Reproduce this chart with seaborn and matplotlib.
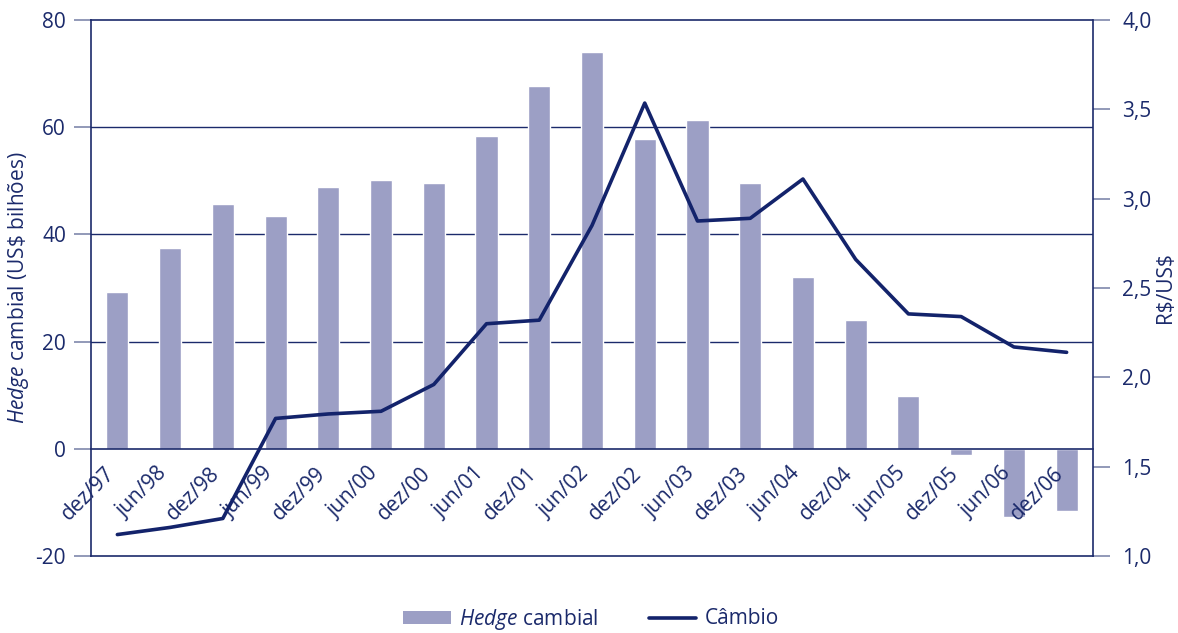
import numpy as np
import pandas as pd
import matplotlib
matplotlib.use("Agg")
import matplotlib.pyplot as plt
import seaborn as sns
from matplotlib.patches import Patch
from matplotlib.lines import Line2D
from matplotlib.ticker import FixedLocator, FuncFormatter

periods = ["dez/97", "jun/98", "dez/98", "jun/99", "dez/99", "jun/00", "dez/00",
           "jun/01", "dez/01", "jun/02", "dez/02", "jun/03", "dez/03", "jun/04",
           "dez/04", "jun/05", "dez/05", "jun/06", "dez/06"]
hedge = [29.3, 37.5, 45.7, 43.4, 48.9, 50.2, 49.6, 58.4, 67.7, 74.0,
         57.8, 61.4, 49.6, 32.1, 24.1, 9.9, -1.1, -12.7, -11.6]
cambio = [1.12, 1.16, 1.21, 1.77, 1.795, 1.81, 1.96, 2.30, 2.32, 2.85,
          3.535, 2.875, 2.89, 3.11, 2.66, 2.355, 2.34, 2.17, 2.14]
left_ticks = [-20, 0, 20, 40, 60, 80]
right_ticks = [1.0, 1.5, 2.0, 2.5, 3.0, 3.5, 4.0]

NAVY = "#1b2a6b"
LINE = "#13236b"
BAR = "#9c9fc5"
TICKC = "#7f88ab"
FS = 15

sns.set_style("white")
plt.rcParams['font.family'] = ['Open Sans', 'DejaVu Sans']
plt.rcParams['mathtext.fontset'] = 'custom'
plt.rcParams['mathtext.rm'] = 'Open Sans'
plt.rcParams['mathtext.it'] = 'Open Sans:italic'
plt.rcParams['axes.unicode_minus'] = False

fig = plt.figure(figsize=(11.78, 6.33), dpi=100)
ax = fig.add_axes([91/1178, 1-556/633, (1093-91)/1178, (556-20)/633])

df = pd.DataFrame({"periodo": periods, "hedge": hedge, "cambio": cambio})
df["pos"] = np.arange(len(df))

sns.barplot(data=df, x="periodo", y="hedge", ax=ax, color=BAR, width=0.42,
            saturation=1, zorder=2)
ax.set_xlim(-0.5, len(df) - 0.5)
ax.set_ylim(left_ticks[0], left_ticks[-1])
ax.set_yticks(left_ticks)
ax.set_axisbelow(True)
for v in left_ticks[1:-1]:
    if v != 0:
        ax.axhline(v, color=NAVY, lw=1.0, zorder=0)

ax.spines['bottom'].set_position(('data', 0))
for s in ['left', 'top', 'bottom']:
    ax.spines[s].set_color(NAVY)
    ax.spines[s].set_linewidth(1.2)
ax.spines['right'].set_visible(False)

ax.set_xlabel("")
ax.set_xticks(df["pos"])
ax.set_xticklabels([])
ax.tick_params(axis='x', which='major', length=0)
ax.xaxis.set_minor_locator(FixedLocator(df["pos"].values[:-1] + 0.5))
ax.tick_params(axis='x', which='minor', direction='inout', length=12, width=1.2,
               color=NAVY)
for p, lab in zip(df["pos"], df["periodo"]):
    ax.annotate(lab, xy=(p, 0), xycoords=('data', 'data'),
                xytext=(-6, -22), textcoords='offset pixels',
                rotation=45, ha='right', va='center', rotation_mode='anchor',
                fontsize=FS, color=NAVY, annotation_clip=False)

ax.tick_params(axis='y', which='major', direction='out', length=12, width=1.2,
               color=TICKC, labelcolor=NAVY, labelsize=FS, pad=6, left=True)
ax.set_ylabel(r"$\mathit{Hedge}$ cambial (US\$ bilhões)", fontsize=FS, color=NAVY)
ax.yaxis.set_label_coords((31 - 91) / 1002, 0.5)

ax2 = ax.twinx()
sns.lineplot(data=df, x="pos", y="cambio", ax=ax2, color=LINE, lw=2.6, zorder=5)
ax2.set_ylim(right_ticks[0], right_ticks[-1])
ax2.set_yticks(right_ticks)
ax2.yaxis.set_major_formatter(FuncFormatter(lambda v, _: f"{v:.1f}".replace(".", ",")))
ax2.tick_params(axis='y', which='major', direction='out', length=12, width=1.2,
                color=TICKC, labelcolor=NAVY, labelsize=FS, pad=9, right=True)
ax2.set_xlim(-0.5, len(df) - 0.5)
ax2.set_xlabel("")
ax2.set_ylabel(r"R\$/US\$", fontsize=FS, color=NAVY)
ax2.yaxis.set_label_coords((1155 - 91) / 1002, 0.5)
for s in ['right', 'bottom']:
    ax2.spines[s].set_color(NAVY)
    ax2.spines[s].set_linewidth(1.2)
ax2.spines['left'].set_visible(False)
ax2.spines['top'].set_visible(False)
ax2.grid(False)
ax.grid(False)

handles = [Patch(facecolor=BAR, edgecolor='none'),
           Line2D([0], [0], color=LINE, lw=2.6)]
labels = [r"$\mathit{Hedge}$ cambial", "Câmbio"]
fig.legend(handles, labels, loc='center', bbox_to_anchor=(591/1178, 1-619/633),
           ncol=2, frameon=False, fontsize=FS, handlelength=2.3, handleheight=0.6,
           columnspacing=2.4, handletextpad=0.4, labelcolor=NAVY)

fig.savefig("out.png", dpi=100)
